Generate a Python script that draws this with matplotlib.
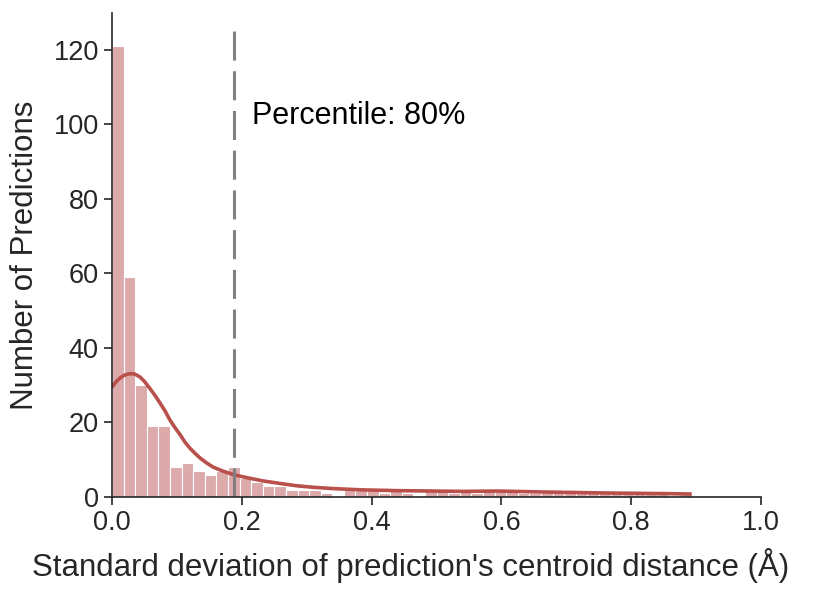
import numpy as np
import matplotlib
matplotlib.use('Agg')
import matplotlib.pyplot as plt
import seaborn as sns

# Histogram counts per bin (50 bins over the data range)
bin_start = 0.0
bin_stop = 0.893
counts = [121, 59, 30, 19, 19, 8, 9, 7, 6, 7,
          8, 5, 4, 3, 3, 2, 2, 2, 1, 0,
          2, 2, 2, 1, 2, 1, 0, 2, 2, 1,
          2, 1, 2, 2, 2, 1, 1, 2, 1, 1,
          1, 1, 1, 1, 1, 1, 1, 1, 0, 1]

# KDE curve (scaled to counts)
kde_x = [0.0, 0.006, 0.012, 0.019, 0.027, 0.035, 0.043, 0.05, 0.058, 0.066,
         0.074, 0.082, 0.089, 0.097, 0.105, 0.112, 0.12, 0.128, 0.136, 0.146,
         0.156, 0.17, 0.187, 0.21, 0.233, 0.26, 0.285, 0.31, 0.336, 0.36,
         0.388, 0.44, 0.491, 0.543, 0.594, 0.646, 0.697, 0.749, 0.80, 0.852,
         0.893]
kde_y = [29.5, 30.9, 31.9, 32.7, 33.1, 33.0, 32.2, 31.0, 29.2, 27.3,
         25.2, 23.0, 20.7, 18.6, 16.7, 14.8, 13.1, 11.7, 10.4, 9.1,
         8.0, 7.0, 6.0, 5.1, 4.3, 3.6, 3.0, 2.6, 2.3, 2.1,
         1.9, 1.7, 1.6, 1.5, 1.6, 1.4, 1.25, 1.1, 1.0, 0.9,
         0.8]

percentile_x = 0.188
percentile_txt = 'Percentile: 80%'

sns.set_style('ticks')
plt.rcParams['font.family'] = ['Liberation Sans', 'DejaVu Sans']

fig = plt.figure(figsize=(8.3, 5.92), dpi=100)
ax = fig.add_axes([0.135, 0.1605, 0.782, 0.818])

edges = np.linspace(bin_start, bin_stop, len(counts) + 1)
width = edges[1] - edges[0]
ax.bar(edges[:-1], counts, width=width, align='edge', color='#dcaaaa',
       edgecolor='white', linewidth=0.8)

ax.plot(kde_x, kde_y, color='#b9504b', lw=2.6, solid_capstyle='butt')

ax.vlines(percentile_x, 0, 125, colors='grey', linestyles=(0, (9.5, 3.5)), lw=2.2)
ax.text(0.215, 100, percentile_txt, fontsize=22, color='black')

ax.set_xlim(0, 1.0)
ax.set_ylim(0, 130)
ax.set_yticks([0, 20, 40, 60, 80, 100, 120])
ax.set_xticks([0.0, 0.2, 0.4, 0.6, 0.8, 1.0])
ax.tick_params(labelsize=19.5, length=6, width=1.2, colors='#262626')
for s in ['left', 'bottom']:
    ax.spines[s].set_linewidth(1.2)
    ax.spines[s].set_color('#262626')
sns.despine(ax=ax)

ax.set_xlabel("Standard deviation of prediction's centroid distance (Å)", fontsize=22.5,
              color='#262626')
ax.xaxis.set_label_coords(0.46, -0.105)
ax.set_ylabel('Number of Predictions', fontsize=22.5, color='#262626', labelpad=10)

fig.savefig('out.png', dpi=100)
